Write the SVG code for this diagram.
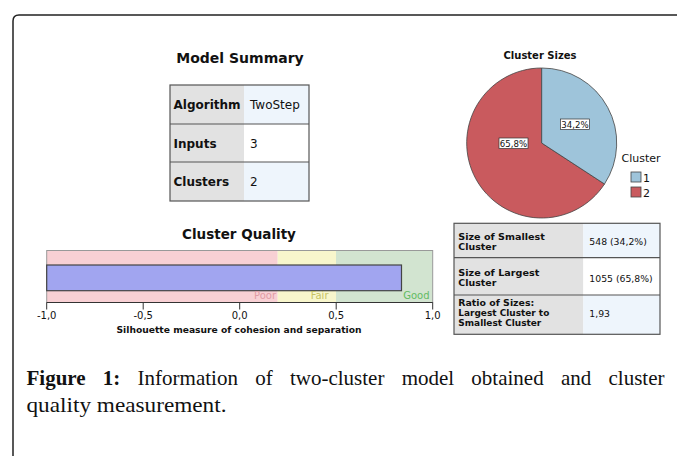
<svg xmlns="http://www.w3.org/2000/svg" width="677" height="456" viewBox="0 0 677 456">
<style>
.t{font-family:"DejaVu Sans","Liberation Sans",sans-serif;fill:#111}
.b{font-weight:bold}
.grid{stroke:#555;stroke-width:1.2;fill:none}
.lab{fill:#e2e2e2}
.v1{fill:#eef5fc}
.v2{fill:#ffffff}
.cap{font-family:"Liberation Serif","DejaVu Serif",serif;font-size:21px;fill:#111}
</style>
<rect width="677" height="456" fill="#fff"/>
<path d="M13,456 L13,21 Q13,15 19,15 L677,15" fill="none" stroke="#222" stroke-width="1.5"/>

<g id="model-summary">
<text class="t b" x="240" y="63" font-size="14" text-anchor="middle">Model Summary</text>
<rect class="lab" x="170" y="85" width="74" height="116"/>
<rect class="v1" x="244" y="85" width="65" height="39"/>
<rect class="v2" x="244" y="124" width="65" height="38"/>
<rect class="v1" x="244" y="162" width="65" height="39"/>
<rect class="grid" x="170" y="85" width="139" height="116"/>
<line class="grid" x1="170" y1="124" x2="309" y2="124"/>
<line class="grid" x1="170" y1="162" x2="309" y2="162"/>
<text class="t b" x="173.5" y="108.5" font-size="12">Algorithm</text>
<text class="t" x="250" y="108.5" font-size="12">TwoStep</text>
<text class="t b" x="173.5" y="147.5" font-size="12">Inputs</text>
<text class="t" x="250" y="147.5" font-size="12">3</text>
<text class="t b" x="173.5" y="186" font-size="12">Clusters</text>
<text class="t" x="250" y="186" font-size="12">2</text>
</g>

<g id="cluster-sizes">
<text class="t b" x="540" y="59" font-size="10" text-anchor="middle">Cluster Sizes</text>
<path d="M541.7,143 L604.5,184 A75,75 0 1,1 541.7,68 Z" fill="#c95a5e" stroke="#444" stroke-width="0.8"/>
<path d="M541.7,143 L541.7,68 A75,75 0 0,1 604.5,184 Z" fill="#9ec4da" stroke="#444" stroke-width="0.8"/>
<rect x="560.5" y="119" width="29" height="10.5" fill="#fff" stroke="#333" stroke-width="0.7"/>
<text class="t" x="575" y="127.6" font-size="8.6" text-anchor="middle">34,2%</text>
<rect x="499" y="138" width="29" height="10.5" fill="#fff" stroke="#333" stroke-width="0.7"/>
<text class="t" x="513.5" y="146.6" font-size="8.6" text-anchor="middle">65,8%</text>
</g>

<g id="legend">
<text class="t" x="621.5" y="162" font-size="11">Cluster</text>
<rect x="631" y="172" width="10" height="10" fill="#9ec4da" stroke="#444" stroke-width="0.8"/>
<text class="t" x="643" y="182" font-size="11">1</text>
<rect x="631" y="187" width="10" height="10" fill="#c95a5e" stroke="#444" stroke-width="0.8"/>
<text class="t" x="643" y="197" font-size="11">2</text>
</g>

<g id="cluster-quality">
<text class="t b" x="239" y="238.5" font-size="13.5" text-anchor="middle">Cluster Quality</text>
<rect x="46.7" y="250.5" width="231" height="52" fill="#f8d0d4"/>
<rect x="277.7" y="250.5" width="58.3" height="52" fill="#f8f6cc"/>
<rect x="336" y="250.5" width="96.7" height="52" fill="#d2e4d0"/>
<rect x="46.7" y="250.5" width="386" height="52" fill="none" stroke="#999" stroke-width="1"/>
<rect x="46.7" y="265" width="354.8" height="25.7" fill="#a1a5f0" stroke="#444" stroke-width="1.2"/>
<text class="t" x="276" y="298.5" font-size="10" text-anchor="end" style="fill:#e09ca5">Poor</text>
<text class="t" x="328.5" y="298.5" font-size="10" text-anchor="end" style="fill:#c7c263">Fair</text>
<text class="t" x="429.5" y="298.5" font-size="10" text-anchor="end" style="fill:#63bb63">Good</text>
<g stroke="#333" stroke-width="1">
<line x1="46.7" y1="302.5" x2="432.7" y2="302.5"/>
<line x1="46.7" y1="302.5" x2="46.7" y2="309.5"/>
<line x1="143.2" y1="302.5" x2="143.2" y2="309.5"/>
<line x1="239.7" y1="302.5" x2="239.7" y2="309.5"/>
<line x1="336.2" y1="302.5" x2="336.2" y2="309.5"/>
<line x1="432.7" y1="302.5" x2="432.7" y2="309.5"/>
</g>
<g class="t" font-size="10" text-anchor="middle">
<text x="46.7" y="318.5">-1,0</text>
<text x="143.2" y="318.5">-0,5</text>
<text x="239.7" y="318.5">0,0</text>
<text x="336.2" y="318.5">0,5</text>
<text x="432.7" y="318.5">1,0</text>
</g>
<text class="t b" x="239" y="333" font-size="8.7" text-anchor="middle" textLength="245" lengthAdjust="spacingAndGlyphs">Silhouette measure of cohesion and separation</text>
</g>

<g id="size-table">
<rect class="lab" x="454" y="223.3" width="129.3" height="111"/>
<rect class="v1" x="583.3" y="223.3" width="76.7" height="34.4"/>
<rect class="v2" x="583.3" y="257.7" width="76.7" height="37.3"/>
<rect class="v1" x="583.3" y="295" width="76.7" height="39.3"/>
<rect class="grid" x="454" y="223.3" width="206" height="111"/>
<line class="grid" x1="454" y1="257.7" x2="660" y2="257.7"/>
<line class="grid" x1="454" y1="295" x2="660" y2="295"/>
<g class="t b" font-size="8.8" lengthAdjust="spacingAndGlyphs">
<text x="458.3" y="240.3" textLength="86.5" lengthAdjust="spacingAndGlyphs">Size of Smallest</text>
<text x="458.3" y="250.3" textLength="38" lengthAdjust="spacingAndGlyphs">Cluster</text>
<text x="458.3" y="276.3" textLength="81" lengthAdjust="spacingAndGlyphs">Size of Largest</text>
<text x="458.3" y="286.3" textLength="38" lengthAdjust="spacingAndGlyphs">Cluster</text>
<text x="458.3" y="305.5" textLength="76" lengthAdjust="spacingAndGlyphs">Ratio of Sizes:</text>
<text x="458.3" y="315.5" textLength="91" lengthAdjust="spacingAndGlyphs">Largest Cluster to</text>
<text x="458.3" y="325.5" textLength="83" lengthAdjust="spacingAndGlyphs">Smallest Cluster</text>
</g>
<g class="t" font-size="9.3">
<text x="589.3" y="245">548 (34,2%)</text>
<text x="589.3" y="281.7">1055 (65,8%)</text>
<text x="589.3" y="316.7">1,93</text>
</g>
</g>

<g id="caption">
<text class="cap" x="26.5" y="385" word-spacing="12"><tspan font-weight="bold">Figure 1:</tspan> Information of two-cluster model obtained and cluster</text>
<text class="cap" x="26.5" y="411.5" textLength="200" lengthAdjust="spacingAndGlyphs">quality measurement.</text>
</g>
</svg>
